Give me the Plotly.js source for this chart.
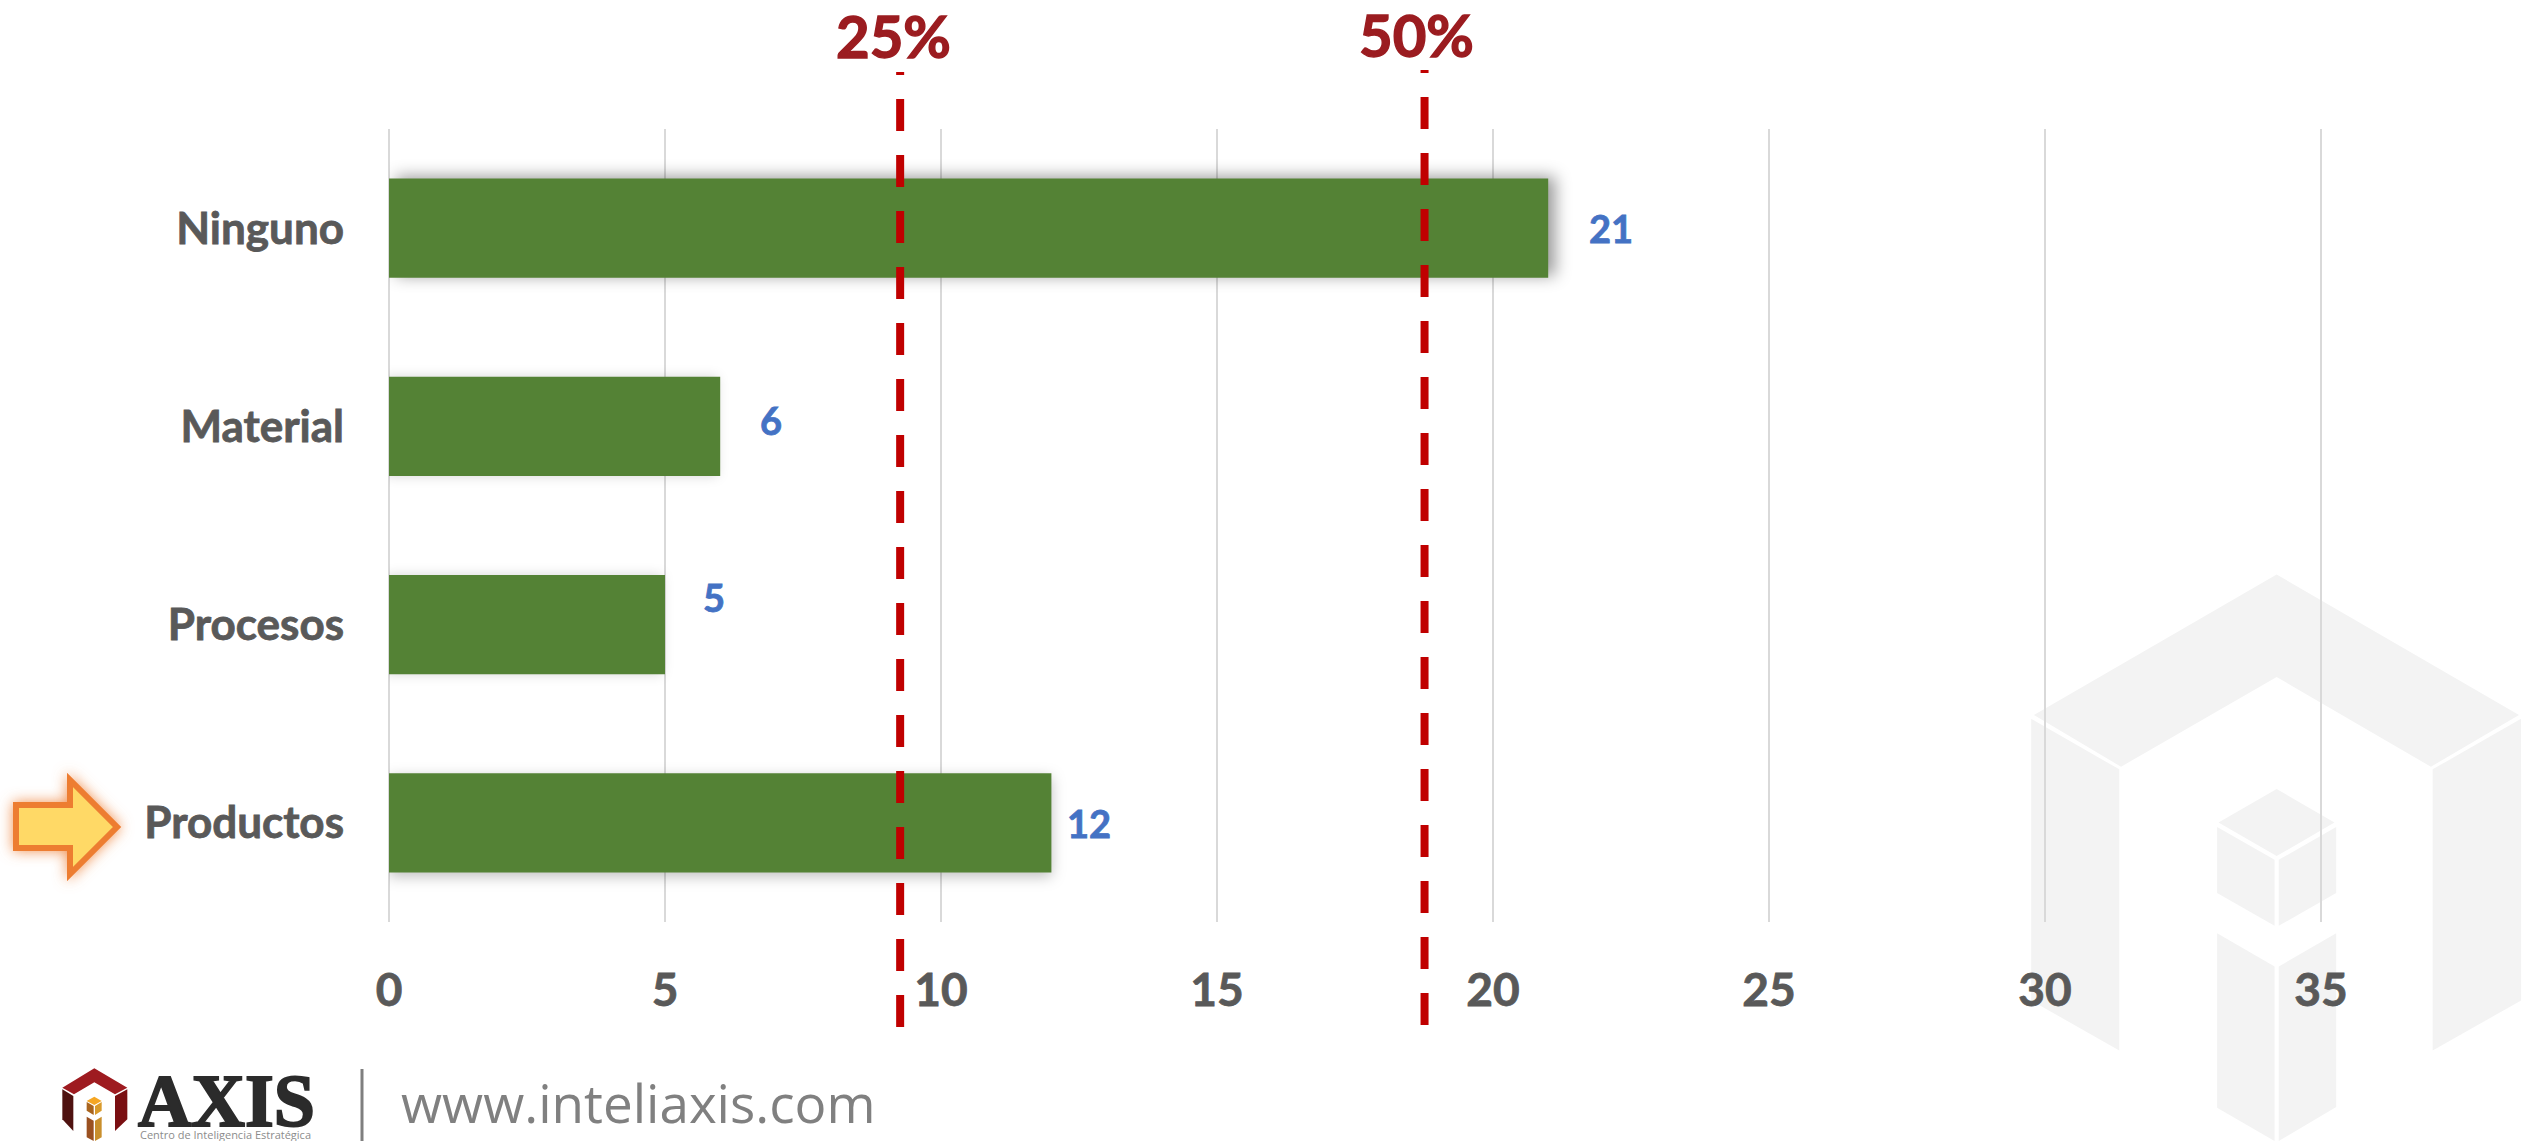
<!DOCTYPE html>
<html><head><meta charset="utf-8">
<script src="https://cdn.plot.ly/plotly-3.0.1.min.js"></script>
<style>
html,body{margin:0;padding:0;background:#fff;overflow:hidden}
#c{width:2526px;height:1141px}
.barlayer .point:nth-child(1) path{filter:drop-shadow(0 4px 7px rgba(0,0,0,.25))}
.barlayer .point:nth-child(2) path{filter:drop-shadow(-3px 0 6px rgba(0,0,0,.16))}
.barlayer .point:nth-child(3) path{filter:drop-shadow(-3px 0 6px rgba(0,0,0,.16))}
.barlayer .point:nth-child(4) path{filter:drop-shadow(7px -2px 8px rgba(0,0,0,.40))}
.xtick text,.ytick text{stroke:#595959;stroke-width:.8px}
</style></head><body><div id="c"></div>
<script>
const categories = ["Productos","Procesos","Material","Ninguno"];
const values = [12,5,6,21];
const tickValues = [0,5,10,15,20,25,30,35];
const thresholdValues = [9.26,18.76];
const thresholdLabels = ["25%","50%"];
const siteText = "www.inteliaxis.com";
const logoText = "AXIS";
const logoSubtitle = "Centro de Inteligencia Estratégica";

const W=2526,H=1141;
const fx=p=>p/W, fy=p=>1-p/H;
const FONT="Lato, 'Open Sans', sans-serif";
const poly=(pts,fill,extra)=>Object.assign({type:'path',xref:'paper',yref:'paper',layer:'below',
  path:'M'+pts.map(p=>fx(p[0])+','+fy(p[1])).join('L')+'Z',fillcolor:fill,line:{width:0}},extra||{});

/* watermark */
const wm=(a)=>a.map(p=>[1980+p[0]/2.872,550+p[1]/2.653]);
const wmC='#f3f3f3';
const watermark=[
 [[155,438],[852,65],[1548,438],[1295,575],[852,337],[405,575]],
 [[147,448],[400,582],[400,1328],[147,1195]],
 [[1300,582],[1554,448],[1554,1195],[1300,1328]],
 [[685,723],[852,634],[1018,723],[852,812]],
 [[681,735],[846,822],[846,997],[681,910]],
 [[858,822],[1023,735],[1023,910],[858,997]],
 [[681,1017],[846,1105],[846,1568],[681,1480]],
 [[858,1105],[1023,1017],[1023,1478],[858,1568]]
].map(a=>poly(wm(a),wmC));

/* logo */
const lg=(a)=>a.map(p=>[50+p[0]/3,1050+p[1]/3]);
const logo=[
 [[[133,55],[232,113],[195,133],[133,97],[72,133],[37,113]],'#9e1b20'],
 [[[37,118],[70,138],[70,243],[37,208]],'#4f1210'],
 [[[195,138],[232,118],[232,208],[195,243]],'#7a0f12'],
 [[[133,140],[155,153],[133,165],[110,153]],'#f5a623'],
 [[[110,156],[131,168],[131,195],[110,182]],'#a9641e'],
 [[[135,168],[155,156],[155,182],[135,195]],'#d99a2a'],
 [[[110,200],[131,212],[131,273],[110,262]],'#9a5020'],
 [[[135,212],[155,200],[155,262],[135,273]],'#c98f2c']
].map(a=>poly(lg(a[0]),a[1]));

/* arrow */
const arrow=Object.assign(poly([[16,805],[70,805],[70,780],[117,827],[70,874],[70,848],[16,848]],'#ffd966',{layer:'above'}),
  {line:{color:'#ed7d31',width:6},name:'arrow'});

const sep={type:'line',xref:'paper',yref:'paper',x0:fx(362),x1:fx(362),y0:fy(1069),y1:0,line:{color:'#7f7f7f',width:3},layer:'below'};

const dashTop=[72,70], dashBottom=[1027,1025];
const thresholds=thresholdValues.map((v,i)=>({type:'line',xref:'x',yref:'paper',x0:v,x1:v,
  y0:fy(dashBottom[i]),y1:fy(dashTop[i]),layer:'above',line:{color:'#c00000',width:8,dash:'32px,24px'}}));

const labelShift=[[38,0],[49,28],[51,6],[63,0]];
const annotations=values.map((v,i)=>({x:v,y:categories[i],xref:'x',yref:'y',text:String(v),showarrow:false,
  xanchor:'center',yanchor:'middle',xshift:labelShift[i][0],yshift:labelShift[i][1],
  font:{family:FONT,size:38,weight:700,color:'#4472c4'}}));
const thrX=[893,1416],thrY=[35,34];
thresholdLabels.forEach((t,i)=>annotations.push({x:fx(thrX[i]),y:fy(thrY[i]),xref:'paper',yref:'paper',text:t,showarrow:false,
  xanchor:'center',yanchor:'middle',font:{family:FONT,size:58,weight:700,color:'#9b1c20'}}));
annotations.push({x:fx(399),y:fy(1102),xref:'paper',yref:'paper',text:siteText,showarrow:false,xanchor:'left',yanchor:'middle',
  font:{family:"'Open Sans',sans-serif",size:53,color:'#808080'}});
annotations.push({x:fx(226),y:fy(1101),xref:'paper',yref:'paper',text:logoText,showarrow:false,xanchor:'center',yanchor:'middle',
  font:{family:"'Liberation Serif',serif",size:74,weight:700,color:'#2b2b2b'}});
annotations.push({x:fx(225),y:fy(1134),xref:'paper',yref:'paper',text:logoSubtitle,showarrow:false,xanchor:'center',yanchor:'middle',
  font:{family:"'Open Sans',sans-serif",size:11,color:'#8c8c8c'}});

const data=[{type:'bar',orientation:'h',x:values,y:categories,marker:{color:'#548235',line:{width:0}},hoverinfo:'skip',cliponaxis:false}];
const layout={width:W,height:H,margin:{l:0,r:0,t:0,b:0},paper_bgcolor:'rgba(0,0,0,0)',plot_bgcolor:'rgba(0,0,0,0)',
  showlegend:false,bargap:0.5,
  xaxis:{domain:[fx(389),fx(389+35.06*55.2)],range:[0,35.06],tickvals:tickValues,ticktext:tickValues.map(String),showgrid:true,gridcolor:'#d9d9d9',gridwidth:2,
    zeroline:true,zerolinecolor:'#d9d9d9',zerolinewidth:2,showline:false,ticks:'',ticklabelstandoff:37,
    tickfont:{family:FONT,size:46,weight:700,color:'#595959'},anchor:'y'},
  yaxis:{domain:[fy(922),fy(129)],type:'category',categoryorder:'array',categoryarray:categories,showgrid:false,zeroline:false,showline:false,ticks:'',ticklabelstandoff:44,
    tickfont:{family:FONT,size:44,weight:700,color:'#595959'},anchor:'x'},
  shapes:[...watermark,...logo,sep,arrow,...thresholds],annotations};
Plotly.newPlot('c',data,layout,{displayModeBar:false,staticPlot:true}).then(()=>{
  document.querySelectorAll('.shapelayer path').forEach(p=>{
    if((p.style.fill||'').replace(/\s/g,'')==='rgb(255,217,102)') p.style.filter='drop-shadow(0 0 7px rgba(237,125,49,.85))';
  });
  const strokes={'21':'#4472c4','12':'#4472c4','6':'#4472c4','5':'#4472c4','25%':'#9b1c20','50%':'#9b1c20','AXIS':'#2b2b2b'};
  const widths={'AXIS':'2px','25%':'1.4px','50%':'1.4px'};
  document.querySelectorAll('.annotation-text').forEach(t=>{
    const k=t.textContent; if(strokes[k]){t.style.stroke=strokes[k];t.style.strokeWidth=widths[k]||'.8px';}
  });
});
</script></body></html>
